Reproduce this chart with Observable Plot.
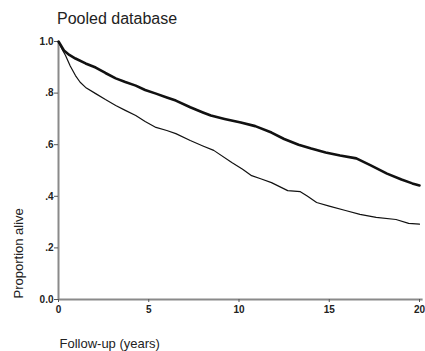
<!DOCTYPE html>
<html>
<head>
<meta charset="utf-8">
<script src="https://cdn.jsdelivr.net/npm/d3@7"></script>
<script src="https://cdn.jsdelivr.net/npm/@observablehq/plot@0.6"></script>
<style>
  html, body { margin: 0; padding: 0; background: #fff; }
  #title { position: relative; height: 30px; font-family: "Liberation Sans", Arial, sans-serif; }
  #title span { position: absolute; left: 57px; top: 11px; font-size: 16px; line-height: 16px; color: #222; white-space: nowrap; }
</style>
</head>
<body>
<div id="title"><span>Pooled database</span></div>
<div id="chart"></div>
<script>
const titleText = "Pooled database";
const xLabel = "Follow-up (years)";
const yLabel = "Proportion alive";

const xTicks = [0, 5, 10, 15, 20];
const yTicks = [0, 0.2, 0.4, 0.6, 0.8, 1.0];
const yTickLabels = ["0.0", ".2", ".4", ".6", ".8", "1.0"];

// Upper (thick) curve
const thickTime = [0, 0.3, 0.6, 0.94, 1.5, 2.06, 2.6, 3.17, 3.7, 4.28, 4.8, 5.4, 6.0, 6.5, 7.3, 8.0, 8.44, 9.2, 10.1, 10.9, 11.8, 12.5, 13.3, 14.0, 14.8, 15.6, 16.5, 17.3, 18.2, 19.0, 19.6, 20.0];
const thickSurv = [1.0, 0.965, 0.948, 0.934, 0.915, 0.899, 0.878, 0.857, 0.843, 0.829, 0.812, 0.798, 0.783, 0.771, 0.745, 0.725, 0.713, 0.700, 0.686, 0.672, 0.647, 0.622, 0.600, 0.585, 0.570, 0.558, 0.547, 0.520, 0.488, 0.465, 0.450, 0.442];

// Lower (thin) curve
const thinTime = [0, 0.2, 0.39, 0.65, 0.94, 1.2, 1.5, 2.06, 2.6, 3.17, 3.7, 4.28, 4.8, 5.4, 6.0, 6.5, 7.3, 8.0, 8.6, 9.6, 10.2, 10.7, 11.2, 11.8, 12.7, 13.4, 13.8, 14.3, 15.0, 15.9, 16.7, 17.6, 18.7, 19.4, 20.0];
const thinSurv = [1.0, 0.97, 0.946, 0.905, 0.868, 0.842, 0.822, 0.798, 0.775, 0.752, 0.733, 0.713, 0.690, 0.667, 0.655, 0.643, 0.616, 0.595, 0.578, 0.531, 0.505, 0.480, 0.468, 0.453, 0.422, 0.418, 0.400, 0.376, 0.362, 0.345, 0.330, 0.318, 0.310, 0.295, 0.292];

const thick = thickTime.map((t, i) => ({t, s: thickSurv[i]}));
const thin = thinTime.map((t, i) => ({t, s: thinSurv[i]}));

const chart = Plot.plot({
  width: 425,
  height: 321,
  marginTop: 11,
  marginBottom: 52,
  marginLeft: 58,
  marginRight: 6,
  style: { fontFamily: "'Liberation Sans', Arial, sans-serif", fontSize: "10px", color: "#222", overflow: "visible" },
  x: { domain: [0, 20] },
  y: { domain: [0, 1] },
  marks: [
    Plot.ruleX([0], { stroke: "#8a8a8a", strokeWidth: 2 }),
    Plot.ruleY([0], { stroke: "#8a8a8a", strokeWidth: 2, x1: 0, x2: 20.2 }),
    Plot.axisX({ ticks: xTicks, tickSize: 3, tickPadding: 3, label: null, stroke: "#555", fill: "#222", fontWeight: "bold", fontSize: 10 }),
    Plot.axisY({ ticks: yTicks, tickFormat: (d) => yTickLabels[yTicks.indexOf(d)], tickSize: 4, tickPadding: 1, label: null, stroke: "#555", fill: "#222", fontWeight: "bold", fontSize: 10 }),
    Plot.line(thin, { x: "t", y: "s", stroke: "#111", strokeWidth: 1.2 }),
    Plot.line(thick, { x: "t", y: "s", stroke: "#111", strokeWidth: 2.6 }),
    Plot.text([xLabel], { frameAnchor: "bottom-left", textAnchor: "start", lineAnchor: "top", dy: 39, dx: 1, fontSize: 13, fill: "#222" }),
    Plot.text([yLabel], { frameAnchor: "bottom-left", textAnchor: "start", lineAnchor: "middle", rotate: -90, dx: -40, dy: -1, fontSize: 13, fill: "#222" })
  ]
});
document.getElementById("chart").appendChild(chart);
</script>
</body>
</html>
